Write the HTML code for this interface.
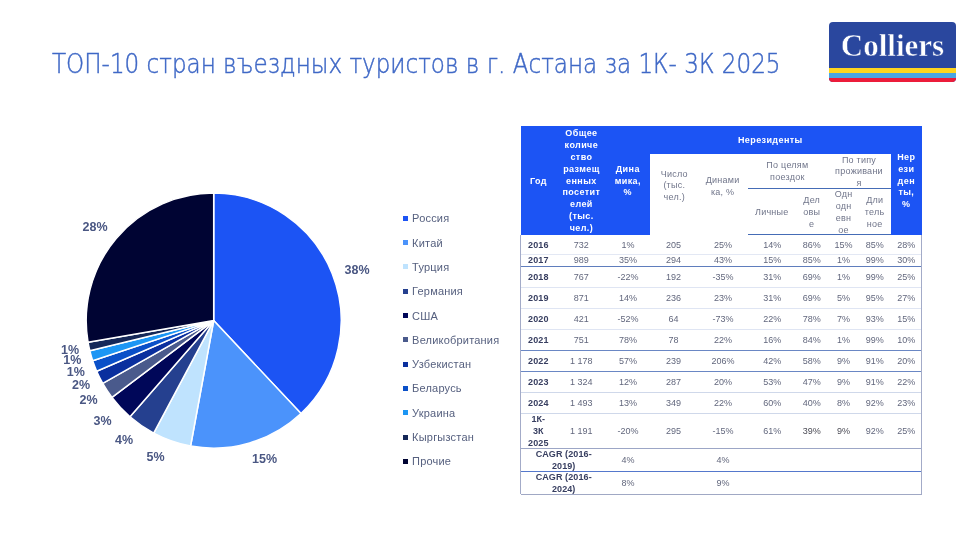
<!DOCTYPE html>
<html lang="ru"><head><meta charset="utf-8"><title>ТОП-10 стран въездных туристов</title>
<style>
html,body{margin:0;padding:0;background:#fff;}
body{width:974px;height:548px;position:relative;overflow:hidden;font-family:"Liberation Sans","DejaVu Sans",sans-serif;}
.abs{position:absolute;}
#title{left:52.3px;top:48.4px;font-family:"DejaVu Sans","Liberation Sans",sans-serif;font-size:26.4px;line-height:32px;color:#3f68c6;white-space:nowrap;font-weight:200;transform-origin:0 0;transform:scaleX(0.874);-webkit-text-stroke:0.45px #3f68c6;}
#logo{left:829px;top:22px;width:127px;height:60px;border-radius:4px;overflow:hidden;background:#2a479e;}
#logo .t{position:absolute;left:0;width:127px;top:7.5px;text-align:center;color:#fff;font-family:"Liberation Serif",serif;font-weight:700;font-size:31px;line-height:31px;letter-spacing:0px;-webkit-text-stroke:0.5px #2a479e;}
#logo .y{position:absolute;left:0;width:127px;top:46px;height:5px;background:#ffd51e;}
#logo .b{position:absolute;left:0;width:127px;top:51px;height:4.5px;background:#4aa5e2;}
#logo .r{position:absolute;left:0;width:127px;top:55.5px;height:4.5px;background:#ec1c3a;}
.lg{left:403.1px;height:12px;line-height:12px;font-size:11px;color:#56607f;white-space:nowrap;letter-spacing:0.2px;}
.lg i{position:absolute;left:0;top:3.5px;width:5px;height:5px;display:block;}
.lg span{position:absolute;left:9px;top:0;}
.pl{font-size:12.5px;font-weight:700;color:#4a5783;line-height:14px;height:14px;width:40px;text-align:center;white-space:nowrap;}
.c{position:absolute;text-align:center;font-size:9px;line-height:12px;height:12px;white-space:nowrap;color:#62677d;}
.hb{color:#fff;font-weight:700;letter-spacing:0.4px;}
.hw{color:#70758a;letter-spacing:0.25px;}
.yr{color:#373e60;font-weight:700;letter-spacing:0.1px;}
.ln{position:absolute;height:1px;}
</style></head><body>

<div id="title" class="abs">ТОП-10 стран въездных туристов в г. Астана за 1К- 3К 2025</div>
<div id="logo" class="abs"><div class="t">Colliers</div><div class="y"></div><div class="b"></div><div class="r"></div></div>
<svg class="abs" style="left:0;top:0" width="974" height="548" viewBox="0 0 974 548"><path d="M213.70 320.60L213.70 193.10A127.5 127.5 0 0 1 300.98 413.54Z" fill="#1c54f4" stroke="#fff" stroke-width="1.5" stroke-linejoin="round"/><path d="M213.70 320.60L300.98 413.54A127.5 127.5 0 0 1 190.60 445.99Z" fill="#4b93fb" stroke="#fff" stroke-width="1.5" stroke-linejoin="round"/><path d="M213.70 320.60L190.60 445.99A127.5 127.5 0 0 1 153.69 433.09Z" fill="#bfe3fe" stroke="#fff" stroke-width="1.5" stroke-linejoin="round"/><path d="M213.70 320.60L153.69 433.09A127.5 127.5 0 0 1 129.99 416.77Z" fill="#25408f" stroke="#fff" stroke-width="1.5" stroke-linejoin="round"/><path d="M213.70 320.60L129.99 416.77A127.5 127.5 0 0 1 111.98 397.47Z" fill="#000759" stroke="#fff" stroke-width="1.5" stroke-linejoin="round"/><path d="M213.70 320.60L111.98 397.47A127.5 127.5 0 0 1 102.75 383.42Z" fill="#4a5a8c" stroke="#fff" stroke-width="1.5" stroke-linejoin="round"/><path d="M213.70 320.60L102.75 383.42A127.5 127.5 0 0 1 96.69 371.24Z" fill="#0a2f9e" stroke="#fff" stroke-width="1.5" stroke-linejoin="round"/><path d="M213.70 320.60L96.69 371.24A127.5 127.5 0 0 1 92.69 360.76Z" fill="#0a50c8" stroke="#fff" stroke-width="1.5" stroke-linejoin="round"/><path d="M213.70 320.60L92.69 360.76A127.5 127.5 0 0 1 89.82 350.75Z" fill="#1c96f4" stroke="#fff" stroke-width="1.5" stroke-linejoin="round"/><path d="M213.70 320.60L89.82 350.75A127.5 127.5 0 0 1 88.06 342.28Z" fill="#152858" stroke="#fff" stroke-width="1.5" stroke-linejoin="round"/><path d="M213.70 320.60L88.06 342.28A127.5 127.5 0 0 1 213.70 193.10Z" fill="#000433" stroke="#fff" stroke-width="1.5" stroke-linejoin="round"/></svg>
<div class="abs pl" style="left:337px;top:262.5px">38%</div>
<div class="abs pl" style="left:244.5px;top:451.5px">15%</div>
<div class="abs pl" style="left:135.5px;top:449.5px">5%</div>
<div class="abs pl" style="left:104px;top:433px">4%</div>
<div class="abs pl" style="left:82.5px;top:413.5px">3%</div>
<div class="abs pl" style="left:68.5px;top:392.8px">2%</div>
<div class="abs pl" style="left:61px;top:377.5px">2%</div>
<div class="abs pl" style="left:55.8px;top:364.7px">1%</div>
<div class="abs pl" style="left:52.3px;top:353.4px">1%</div>
<div class="abs pl" style="left:50px;top:343px">1%</div>
<div class="abs pl" style="left:75px;top:219.5px">28%</div>
<div class="abs lg" style="top:212.3px"><i style="background:#1c54f4"></i><span>Россия</span></div>
<div class="abs lg" style="top:236.6px"><i style="background:#4b93fb"></i><span>Китай</span></div>
<div class="abs lg" style="top:260.9px"><i style="background:#bfe3fe"></i><span>Турция</span></div>
<div class="abs lg" style="top:285.2px"><i style="background:#25408f"></i><span>Германия</span></div>
<div class="abs lg" style="top:309.5px"><i style="background:#000759"></i><span>США</span></div>
<div class="abs lg" style="top:333.8px"><i style="background:#4a5a8c"></i><span>Великобритания</span></div>
<div class="abs lg" style="top:358.1px"><i style="background:#0a2f9e"></i><span>Узбекистан</span></div>
<div class="abs lg" style="top:382.4px"><i style="background:#0a50c8"></i><span>Беларусь</span></div>
<div class="abs lg" style="top:406.7px"><i style="background:#1c96f4"></i><span>Украина</span></div>
<div class="abs lg" style="top:431.0px"><i style="background:#152858"></i><span>Кыргызстан</span></div>
<div class="abs lg" style="top:455.3px"><i style="background:#000433"></i><span>Прочие</span></div>
<div class="abs" style="left:520.7px;top:125.5px;width:401.1px;height:109.4px;background:#1c54f4"></div>
<div class="abs" style="left:649.8px;top:154.2px;width:241.4px;height:81.2px;background:#fff"></div>
<div class="ln" style="left:747.5px;top:188.00px;width:143.7px;height:1.2px;background:#456cb6"></div>
<div class="ln" style="left:747.5px;top:234.00px;width:143.7px;height:1.2px;background:#456cb6"></div>
<div class="c hb" style="left:503.4px;top:175px;width:70px">Год</div>
<div class="c hb" style="left:546.4px;top:127px;width:70px">Общее</div>
<div class="c hb" style="left:546.4px;top:139px;width:70px">количе</div>
<div class="c hb" style="left:546.4px;top:151px;width:70px">ство</div>
<div class="c hb" style="left:546.4px;top:163px;width:70px">размещ</div>
<div class="c hb" style="left:546.4px;top:175px;width:70px">енных</div>
<div class="c hb" style="left:546.4px;top:186px;width:70px">посетит</div>
<div class="c hb" style="left:546.4px;top:198px;width:70px">елей</div>
<div class="c hb" style="left:546.4px;top:210px;width:70px">(тыс.</div>
<div class="c hb" style="left:546.4px;top:222px;width:70px">чел.)</div>
<div class="c hb" style="left:592.8px;top:163px;width:70px">Дина</div>
<div class="c hb" style="left:592.8px;top:175px;width:70px">мика,</div>
<div class="c hb" style="left:592.8px;top:186px;width:70px">%</div>
<div class="c hb" style="left:710.3px;top:134px;width:120px">Нерезиденты</div>
<div class="c hb" style="left:871.3px;top:151px;width:70px">Нер</div>
<div class="c hb" style="left:871.3px;top:163px;width:70px">ези</div>
<div class="c hb" style="left:871.3px;top:175px;width:70px">ден</div>
<div class="c hb" style="left:871.3px;top:186px;width:70px">ты,</div>
<div class="c hb" style="left:871.3px;top:198px;width:70px">%</div>
<div class="c hw" style="left:639.3px;top:168px;width:70px">Число</div>
<div class="c hw" style="left:639.3px;top:179px;width:70px">(тыс.</div>
<div class="c hw" style="left:639.3px;top:191px;width:70px">чел.)</div>
<div class="c hw" style="left:687.6px;top:174px;width:70px">Динами</div>
<div class="c hw" style="left:687.6px;top:186px;width:70px">ка, %</div>
<div class="c hw" style="left:742.4px;top:159px;width:90px">По целям</div>
<div class="c hw" style="left:742.4px;top:171px;width:90px">поездок</div>
<div class="c hw" style="left:814.0px;top:154px;width:90px">По типу</div>
<div class="c hw" style="left:814.0px;top:165px;width:90px">проживани</div>
<div class="c hw" style="left:814.0px;top:177px;width:90px">я</div>
<div class="c hw" style="left:736.8px;top:206px;width:70px">Личные</div>
<div class="c hw" style="left:776.7px;top:194px;width:70px">Дел</div>
<div class="c hw" style="left:776.7px;top:206px;width:70px">овы</div>
<div class="c hw" style="left:776.7px;top:218px;width:70px">е</div>
<div class="c hw" style="left:808.6px;top:188px;width:70px">Одн</div>
<div class="c hw" style="left:808.6px;top:200px;width:70px">одн</div>
<div class="c hw" style="left:808.6px;top:212px;width:70px">евн</div>
<div class="c hw" style="left:808.6px;top:224px;width:70px">ое</div>
<div class="c hw" style="left:839.7px;top:194px;width:70px">Дли</div>
<div class="c hw" style="left:839.7px;top:206px;width:70px">тель</div>
<div class="c hw" style="left:839.7px;top:218px;width:70px">ное</div>
<div class="c yr" style="left:508.3px;top:239px;width:60px">2016</div>
<div class="c " style="left:551.2px;top:239px;width:60px">732</div>
<div class="c " style="left:598.1px;top:239px;width:60px">1%</div>
<div class="c " style="left:643.5px;top:239px;width:60px">205</div>
<div class="c " style="left:693.0px;top:239px;width:60px">25%</div>
<div class="c " style="left:742.3px;top:239px;width:60px">14%</div>
<div class="c " style="left:781.7px;top:239px;width:60px">86%</div>
<div class="c " style="left:813.6px;top:239px;width:60px">15%</div>
<div class="c " style="left:844.7px;top:239px;width:60px">85%</div>
<div class="c " style="left:876.3px;top:239px;width:60px">28%</div>
<div class="c yr" style="left:508.3px;top:254px;width:60px">2017</div>
<div class="c " style="left:551.2px;top:254px;width:60px">989</div>
<div class="c " style="left:598.1px;top:254px;width:60px">35%</div>
<div class="c " style="left:643.5px;top:254px;width:60px">294</div>
<div class="c " style="left:693.0px;top:254px;width:60px">43%</div>
<div class="c " style="left:742.3px;top:254px;width:60px">15%</div>
<div class="c " style="left:781.7px;top:254px;width:60px">85%</div>
<div class="c " style="left:813.6px;top:254px;width:60px">1%</div>
<div class="c " style="left:844.7px;top:254px;width:60px">99%</div>
<div class="c " style="left:876.3px;top:254px;width:60px">30%</div>
<div class="c yr" style="left:508.3px;top:271px;width:60px">2018</div>
<div class="c " style="left:551.2px;top:271px;width:60px">767</div>
<div class="c " style="left:598.1px;top:271px;width:60px">-22%</div>
<div class="c " style="left:643.5px;top:271px;width:60px">192</div>
<div class="c " style="left:693.0px;top:271px;width:60px">-35%</div>
<div class="c " style="left:742.3px;top:271px;width:60px">31%</div>
<div class="c " style="left:781.7px;top:271px;width:60px">69%</div>
<div class="c " style="left:813.6px;top:271px;width:60px">1%</div>
<div class="c " style="left:844.7px;top:271px;width:60px">99%</div>
<div class="c " style="left:876.3px;top:271px;width:60px">25%</div>
<div class="c yr" style="left:508.3px;top:292px;width:60px">2019</div>
<div class="c " style="left:551.2px;top:292px;width:60px">871</div>
<div class="c " style="left:598.1px;top:292px;width:60px">14%</div>
<div class="c " style="left:643.5px;top:292px;width:60px">236</div>
<div class="c " style="left:693.0px;top:292px;width:60px">23%</div>
<div class="c " style="left:742.3px;top:292px;width:60px">31%</div>
<div class="c " style="left:781.7px;top:292px;width:60px">69%</div>
<div class="c " style="left:813.6px;top:292px;width:60px">5%</div>
<div class="c " style="left:844.7px;top:292px;width:60px">95%</div>
<div class="c " style="left:876.3px;top:292px;width:60px">27%</div>
<div class="c yr" style="left:508.3px;top:313px;width:60px">2020</div>
<div class="c " style="left:551.2px;top:313px;width:60px">421</div>
<div class="c " style="left:598.1px;top:313px;width:60px">-52%</div>
<div class="c " style="left:643.5px;top:313px;width:60px">64</div>
<div class="c " style="left:693.0px;top:313px;width:60px">-73%</div>
<div class="c " style="left:742.3px;top:313px;width:60px">22%</div>
<div class="c " style="left:781.7px;top:313px;width:60px">78%</div>
<div class="c " style="left:813.6px;top:313px;width:60px">7%</div>
<div class="c " style="left:844.7px;top:313px;width:60px">93%</div>
<div class="c " style="left:876.3px;top:313px;width:60px">15%</div>
<div class="c yr" style="left:508.3px;top:334px;width:60px">2021</div>
<div class="c " style="left:551.2px;top:334px;width:60px">751</div>
<div class="c " style="left:598.1px;top:334px;width:60px">78%</div>
<div class="c " style="left:643.5px;top:334px;width:60px">78</div>
<div class="c " style="left:693.0px;top:334px;width:60px">22%</div>
<div class="c " style="left:742.3px;top:334px;width:60px">16%</div>
<div class="c " style="left:781.7px;top:334px;width:60px">84%</div>
<div class="c " style="left:813.6px;top:334px;width:60px">1%</div>
<div class="c " style="left:844.7px;top:334px;width:60px">99%</div>
<div class="c " style="left:876.3px;top:334px;width:60px">10%</div>
<div class="c yr" style="left:508.3px;top:355px;width:60px">2022</div>
<div class="c " style="left:551.2px;top:355px;width:60px">1 178</div>
<div class="c " style="left:598.1px;top:355px;width:60px">57%</div>
<div class="c " style="left:643.5px;top:355px;width:60px">239</div>
<div class="c " style="left:693.0px;top:355px;width:60px">206%</div>
<div class="c " style="left:742.3px;top:355px;width:60px">42%</div>
<div class="c " style="left:781.7px;top:355px;width:60px">58%</div>
<div class="c " style="left:813.6px;top:355px;width:60px">9%</div>
<div class="c " style="left:844.7px;top:355px;width:60px">91%</div>
<div class="c " style="left:876.3px;top:355px;width:60px">20%</div>
<div class="c yr" style="left:508.3px;top:376px;width:60px">2023</div>
<div class="c " style="left:551.2px;top:376px;width:60px">1 324</div>
<div class="c " style="left:598.1px;top:376px;width:60px">12%</div>
<div class="c " style="left:643.5px;top:376px;width:60px">287</div>
<div class="c " style="left:693.0px;top:376px;width:60px">20%</div>
<div class="c " style="left:742.3px;top:376px;width:60px">53%</div>
<div class="c " style="left:781.7px;top:376px;width:60px">47%</div>
<div class="c " style="left:813.6px;top:376px;width:60px">9%</div>
<div class="c " style="left:844.7px;top:376px;width:60px">91%</div>
<div class="c " style="left:876.3px;top:376px;width:60px">22%</div>
<div class="c yr" style="left:508.3px;top:397px;width:60px">2024</div>
<div class="c " style="left:551.2px;top:397px;width:60px">1 493</div>
<div class="c " style="left:598.1px;top:397px;width:60px">13%</div>
<div class="c " style="left:643.5px;top:397px;width:60px">349</div>
<div class="c " style="left:693.0px;top:397px;width:60px">22%</div>
<div class="c " style="left:742.3px;top:397px;width:60px">60%</div>
<div class="c " style="left:781.7px;top:397px;width:60px">40%</div>
<div class="c " style="left:813.6px;top:397px;width:60px">8%</div>
<div class="c " style="left:844.7px;top:397px;width:60px">92%</div>
<div class="c " style="left:876.3px;top:397px;width:60px">23%</div>
<div class="c yr" style="left:508.3px;top:413px;width:60px">1К-</div>
<div class="c yr" style="left:508.3px;top:425px;width:60px">3К</div>
<div class="c yr" style="left:508.3px;top:437px;width:60px">2025</div>
<div class="c " style="left:551.2px;top:425px;width:60px">1 191</div>
<div class="c " style="left:598.1px;top:425px;width:60px">-20%</div>
<div class="c " style="left:643.5px;top:425px;width:60px">295</div>
<div class="c " style="left:693.0px;top:425px;width:60px">-15%</div>
<div class="c " style="left:742.3px;top:425px;width:60px">61%</div>
<div class="c " style="left:781.7px;top:425px;width:60px"><span style="color:#4b4b55">39%</span></div>
<div class="c " style="left:813.6px;top:425px;width:60px"><span style="color:#4b4b55">9%</span></div>
<div class="c " style="left:844.7px;top:425px;width:60px">92%</div>
<div class="c " style="left:876.3px;top:425px;width:60px">25%</div>
<div class="c yr" style="left:518.7px;top:448px;width:90px">CAGR (2016-</div>
<div class="c yr" style="left:518.7px;top:460px;width:90px">2019)</div>
<div class="c " style="left:598.1px;top:454px;width:60px">4%</div>
<div class="c " style="left:693.0px;top:454px;width:60px">4%</div>
<div class="c yr" style="left:518.7px;top:471px;width:90px">CAGR (2016-</div>
<div class="c yr" style="left:518.7px;top:483px;width:90px">2024)</div>
<div class="c " style="left:598.1px;top:477px;width:60px">8%</div>
<div class="c " style="left:693.0px;top:477px;width:60px">9%</div>
<div class="ln" style="left:520.7px;top:254px;width:401.1px;height:1px;background:#e3e8f4"></div>
<div class="ln" style="left:520.7px;top:266px;width:401.1px;height:1px;background:#5f7dbd"></div>
<div class="ln" style="left:520.7px;top:287px;width:401.1px;height:1px;background:#dfe5f3"></div>
<div class="ln" style="left:520.7px;top:308px;width:401.1px;height:1px;background:#dfe5f3"></div>
<div class="ln" style="left:520.7px;top:329px;width:401.1px;height:1px;background:#dfe5f3"></div>
<div class="ln" style="left:520.7px;top:350px;width:401.1px;height:1px;background:#6a87c4"></div>
<div class="ln" style="left:520.7px;top:371px;width:401.1px;height:1px;background:#6a87c4"></div>
<div class="ln" style="left:520.7px;top:392px;width:401.1px;height:1px;background:#cfd8ea"></div>
<div class="ln" style="left:520.7px;top:413px;width:401.1px;height:1px;background:#cfd8ea"></div>
<div class="ln" style="left:520.7px;top:448px;width:401.1px;height:1px;background:#9ca6c6"></div>
<div class="ln" style="left:520.7px;top:471px;width:401.1px;height:1px;background:#5578cc"></div>
<div class="ln" style="left:520.7px;top:494px;width:401.1px;height:1px;background:#a0a8c4"></div>
<div class="abs" style="left:520.2px;top:234.9px;width:1px;height:259.6px;background:#a3abc8"></div>
<div class="abs" style="left:921.3px;top:234.9px;width:1px;height:259.6px;background:#a3abc8"></div>
</body></html>
